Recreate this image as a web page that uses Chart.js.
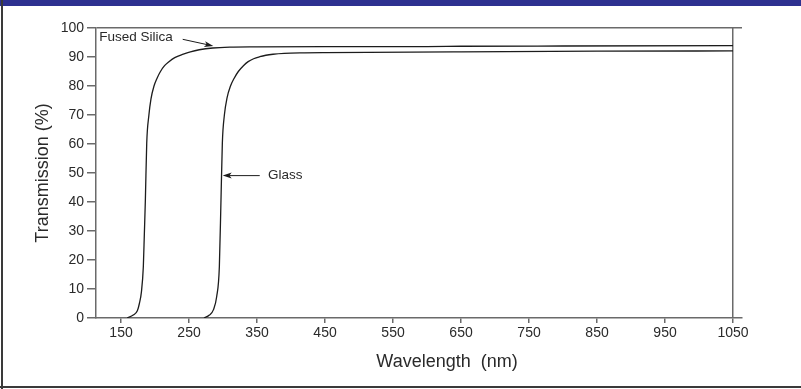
<!DOCTYPE html>
<html>
<head>
<meta charset="utf-8">
<script src="https://cdn.jsdelivr.net/npm/chart.js@4"></script>
<style>
  html, body { margin: 0; padding: 0; background: #fff; }
  #wrap { position: relative; width: 801px; height: 389px; overflow: hidden; }
  #chart { position: absolute; left: 0; top: 0; }
  .bar { position: absolute; }
</style>
</head>
<body>
<div id="wrap">
  <canvas id="chart" width="801" height="389"></canvas>
  <div class="bar" style="left:0;top:0;width:801px;height:6px;background:#2d3190;"></div>
  <div class="bar" style="left:1px;top:0;width:2px;height:389px;background:#3a3a3a;"></div>
  <div class="bar" style="left:0;top:386px;width:801px;height:2px;background:#3a3a3a;"></div>
</div>
<script>
// transmission curves (nm, %)
const fsWavelength   = [159, 168, 174, 177, 180, 182.8, 184.3, 185.8, 187.8, 191, 194, 198.5, 203, 208, 214, 220, 229, 241.6, 252, 265, 285, 310, 350, 450, 600, 650, 800, 1050];
const fsTransmission = [0,   1,   2.5, 5,   9,   17.7,  29,    40.7,  60.3,  70,  75.5, 80,   82.7, 85,  87,  88.3, 89.8, 91,  91.8, 92.5, 93.1, 93.4, 93.5, 93.6, 93.6, 93.7, 93.8, 93.9];
const glassWavelength   = [272, 280, 285.8, 290.7, 294.6, 297,  299,  302, 306, 311, 316,  322.5, 330, 337,  345,  354,  363,  373.5, 390,   420,   450,  650,  850, 1050];
const glassTransmission = [0,   1,   2.8,   7.4,   17.7,  40.7, 60.3, 70,  76,  80,  82.5, 85,    87,  88.4, 89.4, 90.1, 90.6, 90.95, 91.25, 91.42, 91.5, 91.8, 92,  92.1];

const xTickValues = [150, 250, 350, 450, 550, 650, 750, 850, 950, 1050];
const yTickValues = [0, 10, 20, 30, 40, 50, 60, 70, 80, 90, 100];

// callout labels: text anchor and arrow (from -> to), in data units
const calloutText  = ['Fused Silica', 'Glass'];
const calloutAt    = [[118, 96.8], [366, 49.1]];
const arrowFrom    = [[240.7, 96.1], [354, 49.1]];
const arrowTo      = [[285.7, 93.8], [299.5, 49.1]];

const axisColor = '#6a6a6a';
const inkColor = '#1c1c1c';
const fontFamily = '"Liberation Sans", Arial, Helvetica, sans-serif';

function toPoints(xs, ys) {
  return xs.map((x, i) => ({ x: x, y: ys[i] }));
}

function drawArrow(ctx, x1, y1, x2, y2) {
  const ang = Math.atan2(y2 - y1, x2 - x1);
  const headLen = 9, headW = 3;
  ctx.beginPath();
  ctx.moveTo(x1, y1);
  ctx.lineTo(x2 - Math.cos(ang) * headLen * 0.7, y2 - Math.sin(ang) * headLen * 0.7);
  ctx.stroke();
  ctx.beginPath();
  ctx.moveTo(x2, y2);
  ctx.lineTo(x2 - Math.cos(ang) * headLen - Math.sin(ang) * headW, y2 - Math.sin(ang) * headLen + Math.cos(ang) * headW);
  ctx.lineTo(x2 - Math.cos(ang) * headLen * 0.75, y2 - Math.sin(ang) * headLen * 0.75);
  ctx.lineTo(x2 - Math.cos(ang) * headLen + Math.sin(ang) * headW, y2 - Math.sin(ang) * headLen - Math.cos(ang) * headW);
  ctx.closePath();
  ctx.fill();
}

const calloutPlugin = {
  id: 'callouts',
  afterDraw(chart) {
    const ctx = chart.ctx;
    const xs = chart.scales.x, ys = chart.scales.y;
    ctx.save();
    ctx.fillStyle = inkColor;
    ctx.strokeStyle = inkColor;
    ctx.lineWidth = 1;
    ctx.font = '13.5px ' + fontFamily;
    ctx.textBaseline = 'middle';
    ctx.textAlign = 'left';
    calloutText.forEach((t, i) => {
      ctx.fillStyle = '#2a2a2a';
      ctx.fillText(t, xs.getPixelForValue(calloutAt[i][0]), ys.getPixelForValue(calloutAt[i][1]));
      ctx.fillStyle = inkColor;
      drawArrow(ctx,
        xs.getPixelForValue(arrowFrom[i][0]), ys.getPixelForValue(arrowFrom[i][1]),
        xs.getPixelForValue(arrowTo[i][0]), ys.getPixelForValue(arrowTo[i][1]));
    });
    // x axis title, sits a bit right of centre in the original
    const ca = chart.chartArea;
    ctx.fillStyle = '#2a2a2a';
    ctx.font = '18px ' + fontFamily;
    ctx.textAlign = 'center';
    ctx.fillText('Wavelength  (nm)', (ca.left + ca.right) / 2 + 28, 362);
    ctx.restore();
  }
};

new Chart(document.getElementById('chart'), {
  type: 'line',
  data: {
    datasets: [
      {
        label: 'Fused Silica',
        data: toPoints(fsWavelength, fsTransmission),
        borderColor: inkColor,
        borderWidth: 1.3,
        pointRadius: 0,
        cubicInterpolationMode: 'monotone'
      },
      {
        label: 'Glass',
        data: toPoints(glassWavelength, glassTransmission),
        borderColor: inkColor,
        borderWidth: 1.3,
        pointRadius: 0,
        cubicInterpolationMode: 'monotone'
      }
    ]
  },
  options: {
    responsive: false,
    animation: false,
    layout: { padding: { left: 0, right: 59, top: 28, bottom: 0 } },
    plugins: {
      legend: { display: false },
      tooltip: { enabled: false }
    },
    scales: {
      x: {
        type: 'linear',
        min: 113.2,
        max: 1063.2,
        afterBuildTicks: scale => { scale.ticks = xTickValues.map(v => ({ value: v })); },
        afterFit: scale => { scale.height = 71; },
        border: { display: true, color: axisColor, width: 1.5 },
        grid: {
          drawOnChartArea: true,
          color: c => (c.tick && c.tick.value === 1050) ? axisColor : 'rgba(0,0,0,0)',
          lineWidth: 1.5,
          tickColor: axisColor,
          tickLength: 5
        },
        ticks: {
          color: '#2a2a2a',
          padding: 2,
          maxRotation: 0,
          autoSkip: false,
          callback: v => String(v),
          font: { family: fontFamily, size: 14 }
        }
      },
      y: {
        min: 0,
        max: 100,
        afterBuildTicks: scale => { scale.ticks = yTickValues.map(v => ({ value: v })); },
        afterFit: scale => { scale.width = 96; },
        border: { display: true, color: axisColor, width: 1.5 },
        grid: {
          drawOnChartArea: true,
          color: c => (c.tick && c.tick.value === 100) ? axisColor : 'rgba(0,0,0,0)',
          lineWidth: 1.5,
          tickColor: axisColor,
          tickLength: 9
        },
        ticks: {
          color: '#2a2a2a',
          padding: 3,
          autoSkip: false,
          callback: v => String(v),
          font: { family: fontFamily, size: 14 }
        },
        title: {
          display: true,
          text: 'Transmission (%)',
          color: '#2a2a2a',
          padding: { top: 32, bottom: 0 },
          font: { family: fontFamily, size: 18 }
        }
      }
    }
  },
  plugins: [calloutPlugin]
});
</script>
</body>
</html>
